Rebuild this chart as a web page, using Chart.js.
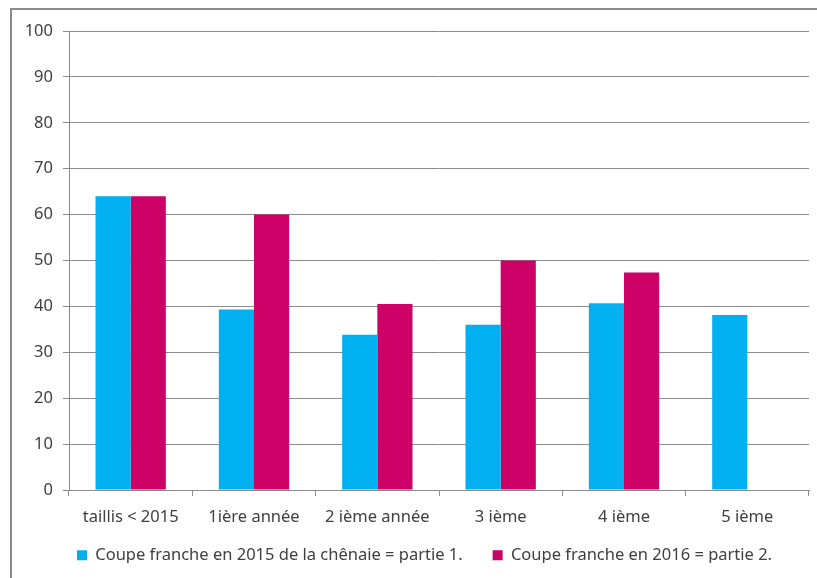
<!DOCTYPE html>
<html>
<head>
<meta charset="utf-8">
<script src="https://cdn.jsdelivr.net/npm/chart.js@4/dist/chart.umd.min.js"></script>
<style>
  html, body { margin: 0; padding: 0; background: #fff; overflow: hidden; }
  #frame { position: absolute; left: 10px; top: 8px; width: 900px; height: 700px; border: 2px solid #8a8a8a; }
  #wrap { position: absolute; left: 0; top: 0; width: 817px; height: 578px; }
</style>
</head>
<body>
<div id="frame"></div>
<div id="wrap"><canvas id="chart" width="817" height="578"></canvas></div>
<script>
  // data
  const categories = ['taillis < 2015', '1ière année', '2 ième année', '3 ième', '4 ième', '5 ième'];
  const coupe2015 = [64, 39.3, 33.8, 36, 40.7, 38.1];
  const coupe2016 = [64, 60, 40.5, 50, 47.4, null];
  const seriesNames = ['Coupe franche en 2015 de la chênaie = partie 1.', 'Coupe franche en 2016 = partie 2.'];
  const yTicks = [0, 10, 20, 30, 40, 50, 60, 70, 80, 90, 100];

  const FONT = "'Noto Sans', sans-serif";
  const TXT = '#404040';
  const GRID = '#8c8c8c';
  const FS = 16.5;

  // legend padding doubles as the gap between items, so its box is resized
  // and nudged by hand after the layout pass
  const legendNudge = {
    id: 'legendNudge',
    beforeLayout(chart) {
      const lg = chart.legend;
      if (lg && !lg._patched) {
        const fit = lg.fit;
        lg.fit = function () { fit.call(this); this.height = 46; };
        lg._patched = true;
      }
    },
    afterLayout(chart) {
      const lg = chart.legend;
      lg.top = 517; lg.bottom = 563;
      lg.left += 20; lg.right += 20;
    }
  };

  const ctx = document.getElementById('chart').getContext('2d');
  const chart = new Chart(ctx, {
    type: 'bar',
    data: {
      labels: categories,
      datasets: [
        { label: seriesNames[0], data: coupe2015, backgroundColor: '#00b0f0' },
        { label: seriesNames[1], data: coupe2016, backgroundColor: '#cc0066' }
      ]
    },
    plugins: [legendNudge],
    options: {
      responsive: false,
      animation: false,
      layout: { padding: { left: 0, right: 8, top: 31, bottom: 0 } },
      datasets: { bar: { barPercentage: 1, categoryPercentage: 0.57 } },
      plugins: {
        tooltip: { enabled: false },
        legend: {
          position: 'bottom',
          labels: {
            color: TXT,
            font: { family: FONT, size: FS },
            boxWidth: 10, boxHeight: 10,
            padding: 30
          }
        }
      },
      scales: {
        x: {
          grid: { drawOnChartArea: false, drawTicks: true, tickLength: 6, color: GRID },
          border: { color: GRID },
          ticks: { color: TXT, font: { family: FONT, size: FS }, padding: 11, maxRotation: 0 },
          afterFit: (s) => { s.height = 42; }
        },
        y: {
          min: 0, max: 100,
          afterBuildTicks: (s) => { s.ticks = yTicks.map(v => ({ value: v })); },
          grid: { color: GRID, tickLength: 6 },
          border: { color: GRID },
          ticks: { color: TXT, font: { family: FONT, size: FS }, padding: 10 },
          afterFit: (s) => { s.width = 69; }
        }
      }
    }
  });
</script>
</body>
</html>
